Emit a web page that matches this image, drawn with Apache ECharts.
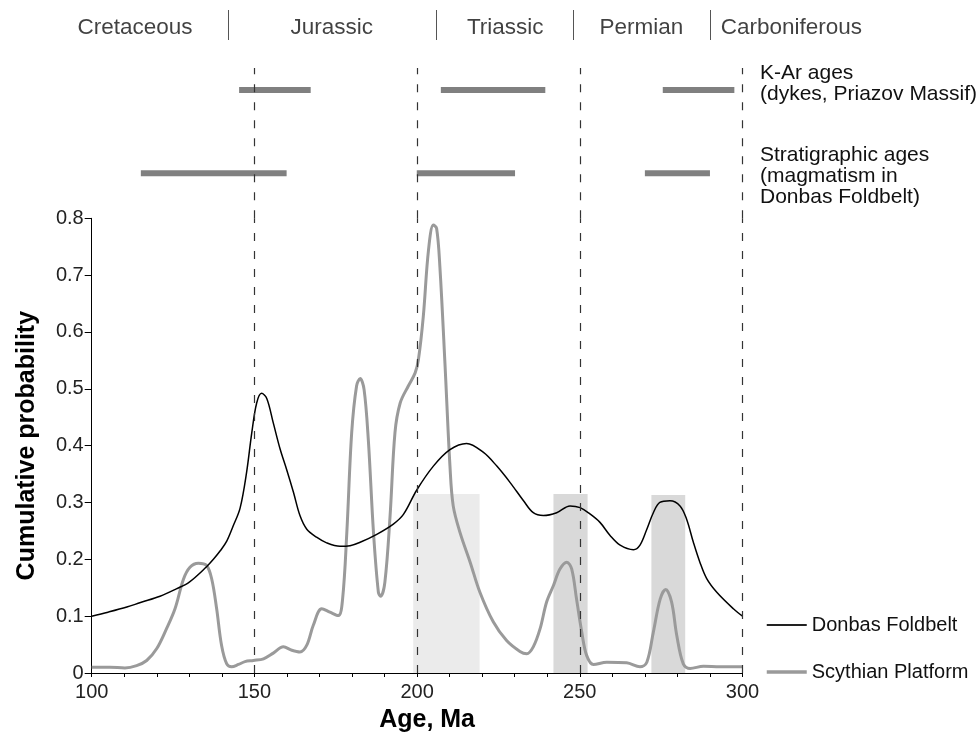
<!DOCTYPE html>
<html><head><meta charset="utf-8">
<script src="https://cdn.jsdelivr.net/npm/echarts@6/dist/echarts.min.js"></script>
<style>html,body{margin:0;padding:0;background:#fff}#c{width:976px;height:738px}</style>
</head><body><div id="c"></div>
<script>
// ---------- data ----------
const donbasAge = [100,105,110.8,115,121,126,130,135.3,137.4,139.5,141.5,143.5,145.6,147.6,149.2,150.7,152.2,153.8,155.8,157.9,159.9,162.0,164.0,166.1,169.1,172.2,176.3,179.4,182.5,187.6,192.7,195.8,199.9,205.0,210.1,215.2,220.4,224.5,228.6,232.7,235.7,238.8,242.9,247.0,250.1,253.1,256.2,259.3,262.4,266.5,268.5,270.6,272.6,274.6,277.7,280.8,282.8,284.9,286.9,289.0,292.1,297.2,300];
const donbasProb = [0.100,0.107,0.116,0.124,0.135,0.148,0.160,0.187,0.200,0.215,0.232,0.259,0.290,0.353,0.423,0.475,0.492,0.483,0.440,0.394,0.358,0.318,0.277,0.253,0.239,0.229,0.223,0.224,0.230,0.244,0.262,0.279,0.322,0.364,0.393,0.404,0.388,0.364,0.335,0.303,0.282,0.277,0.282,0.294,0.291,0.280,0.265,0.242,0.225,0.217,0.225,0.253,0.282,0.300,0.303,0.294,0.271,0.230,0.195,0.166,0.142,0.113,0.100];
const scythianAge = [100,105.6,110.2,113.8,116.9,120.0,123.0,125.6,128.2,130.2,132.8,135.3,136.9,138.4,139.9,141.5,143.0,145.1,147.1,149.7,152.8,155.8,158.9,161.5,164.0,166.1,168.1,170.7,173.2,175.8,177.1,178.4,179.9,181.4,182.5,183.7,185.0,186.6,188.1,188.8,190.1,191.7,193.2,194.8,197.3,199.4,200.4,201.9,203.5,205.0,206.0,207.0,208.6,210.1,211.1,213.2,216.3,219.3,223.4,227.5,231.6,233.7,235.7,237.8,239.8,241.9,243.9,246.0,247.5,249.0,250.6,252.1,254.2,258.3,264.4,268.5,270.6,272.6,274.7,276.4,278.2,279.8,281.8,283.9,288.0,293.1,300];
const scythianProb = [0.010,0.010,0.009,0.013,0.022,0.043,0.078,0.113,0.165,0.186,0.193,0.189,0.165,0.113,0.049,0.016,0.011,0.015,0.020,0.022,0.025,0.035,0.046,0.040,0.037,0.049,0.084,0.113,0.107,0.101,0.130,0.247,0.423,0.505,0.518,0.499,0.411,0.247,0.142,0.135,0.160,0.277,0.423,0.475,0.505,0.528,0.551,0.627,0.744,0.788,0.782,0.715,0.540,0.364,0.294,0.247,0.195,0.142,0.090,0.057,0.038,0.034,0.046,0.078,0.125,0.154,0.183,0.195,0.183,0.130,0.072,0.031,0.015,0.019,0.018,0.011,0.019,0.072,0.130,0.147,0.125,0.066,0.016,0.008,0.012,0.011,0.011];
const periodNames = ['Cretaceous','Jurassic','Triassic','Permian','Carboniferous'];
const periodLabelAge = [113.3,173.8,227.1,268.9,293.3];
const periodBoundaries = [142.0,205.8,247.9,290.0];
const referenceAges = [150,200,250,300];
const kArRanges = [[145.3,167.3],[207.3,239.4],[275.5,297.5]];
const stratRanges = [[115.1,159.9],[199.9,230.1],[270.0,290.0]];
const shadedStart = [198.8,241.9,272.0];
const shadedEnd = [219.2,252.4,282.4];
const shadedTop = [0.315,0.315,0.313];
const shadedColors = ['#ebebeb','#d9d9d9','#d9d9d9'];
const seriesNames = ['Donbas Foldbelt','Scythian Platform'];
const rangeLabels = ['K-Ar ages\n(dykes, Priazov Massif)','Stratigraphic ages\n(magmatism in\nDonbas Foldbelt)'];

// ---------- chart ----------
const FONT = 'Liberation Sans, Arial, sans-serif';
const chart = echarts.init(document.getElementById('c'), null, {renderer:'canvas'});
const gridX = {left:91.7, width:650.8};
const zip = (a,b)=>a.map((v,i)=>[v,b[i]]);
const dashed = {color:'#333', width:1.2, type:[8,10]};

const series = [];
series.push({type:'line', xAxisIndex:0, yAxisIndex:0, data:[], z:1, silent:true,
  markArea:{silent:true, data: shadedStart.map((s,i)=>[{xAxis:s, yAxis:0, itemStyle:{color:shadedColors[i]}},{xAxis:shadedEnd[i], yAxis:shadedTop[i]}])}});
series.push({type:'line', xAxisIndex:0, yAxisIndex:0, data:[], z:2, silent:true,
  markLine:{silent:true, symbol:'none', label:{show:false}, lineStyle:dashed, data: referenceAges.map(v=>({xAxis:v}))}});
series.push({name:seriesNames[1], type:'line', xAxisIndex:0, yAxisIndex:0, data:zip(scythianAge,scythianProb), smooth:0.35, symbol:'none', z:3,
  lineStyle:{color:'#9a9a9a', width:3}, itemStyle:{color:'#9a9a9a'}});
series.push({name:seriesNames[0], type:'line', xAxisIndex:0, yAxisIndex:0, data:zip(donbasAge,donbasProb), smooth:0.35, symbol:'none', z:4,
  lineStyle:{color:'#000', width:1.5}, itemStyle:{color:'#000'}});
series.push({type:'line', xAxisIndex:1, yAxisIndex:1, data:[], z:2, silent:true,
  markLine:{silent:true, symbol:'none', label:{show:false}, lineStyle:dashed, data: referenceAges.map(v=>({xAxis:v}))}});
const KAR_Y = 0.854, STRAT_Y = 0.299;
kArRanges.forEach(r=>series.push({type:'line', xAxisIndex:1, yAxisIndex:1, symbol:'none', silent:true, z:3,
  data:[[r[0],KAR_Y],[r[1],KAR_Y]], lineStyle:{color:'#808080', width:6, cap:'butt'}}));
stratRanges.forEach(r=>series.push({type:'line', xAxisIndex:1, yAxisIndex:1, symbol:'none', silent:true, z:3,
  data:[[r[0],STRAT_Y],[r[1],STRAT_Y]], lineStyle:{color:'#808080', width:6, cap:'butt'}}));
series.push({type:'scatter', xAxisIndex:2, yAxisIndex:2, symbolSize:0, silent:true,
  data: periodNames.map((n,i)=>({name:n, value:[periodLabelAge[i],0.42],
    label:{show:true, formatter:n, position: i===4?'right':'inside', distance:0, align: i===4?'left':'center', verticalAlign:'middle',
      fontFamily:FONT, fontSize:22.5, color:'#111'}})),
  markLine:{silent:true, symbol:'none', label:{show:false}, lineStyle:{color:'#555', width:1, type:'solid'}, data: periodBoundaries.map(v=>({xAxis:v}))}});

const hiddenX = i=>({type:'value', gridIndex:i, min:100, max:300, show:false});
const option = {
  animation:false,
  backgroundColor:'#fff',
  grid:[
    {left:gridX.left, width:gridX.width, top:218.3, height:456},
    {left:gridX.left, width:gridX.width, top:68, height:150.3},
    {left:gridX.left, width:gridX.width, top:10, height:30}
  ],
  xAxis:[
    {type:'value', gridIndex:0, min:100, max:300, interval:10,
      axisLine:{show:true, onZero:false, lineStyle:{color:'#000', width:1}},
      axisTick:{show:true, length:4, lineStyle:{color:'#000'}},
      splitLine:{show:false},
      axisLabel:{margin:9, fontFamily:FONT, fontSize:20, color:'#222', formatter:v=> (v%50===0? String(v):'')},
      name:'Age, Ma', nameLocation:'middle', nameGap:35,
      nameTextStyle:{fontFamily:FONT, fontSize:25, fontWeight:'bold', color:'#000', padding:[0,0,0,20]}},
    hiddenX(1), hiddenX(2)
  ],
  yAxis:[
    {type:'value', gridIndex:0, min:0, max:0.8, interval:0.1,
      axisLine:{show:true, lineStyle:{color:'#000', width:1}},
      axisTick:{show:true, length:7, lineStyle:{color:'#000'}},
      splitLine:{show:false},
      axisLabel:{margin:8, fontFamily:FONT, fontSize:20, color:'#222', formatter:v=> v===0?'0':v.toFixed(1)},
      name:'Cumulative probability', nameLocation:'middle', nameGap:52,
      nameTextStyle:{fontFamily:FONT, fontSize:25, fontWeight:'bold', color:'#000'}},
    {type:'value', gridIndex:1, min:0, max:1, show:false},
    {type:'value', gridIndex:2, min:0, max:1, show:false}
  ],
  legend:{
    data:[
      {name:seriesNames[0], lineStyle:{color:'#222', width:2}},
      {name:seriesNames[1], lineStyle:{color:'#9a9a9a', width:3.5}}
    ],
    orient:'vertical', left:760, top:610, itemWidth:40, itemHeight:20, itemGap:27,
    itemStyle:{opacity:0},
    textStyle:{fontFamily:FONT, fontSize:20, color:'#111'}},
  graphic:[
    {type:'text', left:760, top:63, style:{text:rangeLabels[0], font:'21px '+FONT, lineHeight:21, fill:'#111'}},
    {type:'text', left:760, top:145, style:{text:rangeLabels[1], font:'21px '+FONT, lineHeight:21, fill:'#111'}}
  ],
  series:series
};
chart.setOption(option);
</script></body></html>
